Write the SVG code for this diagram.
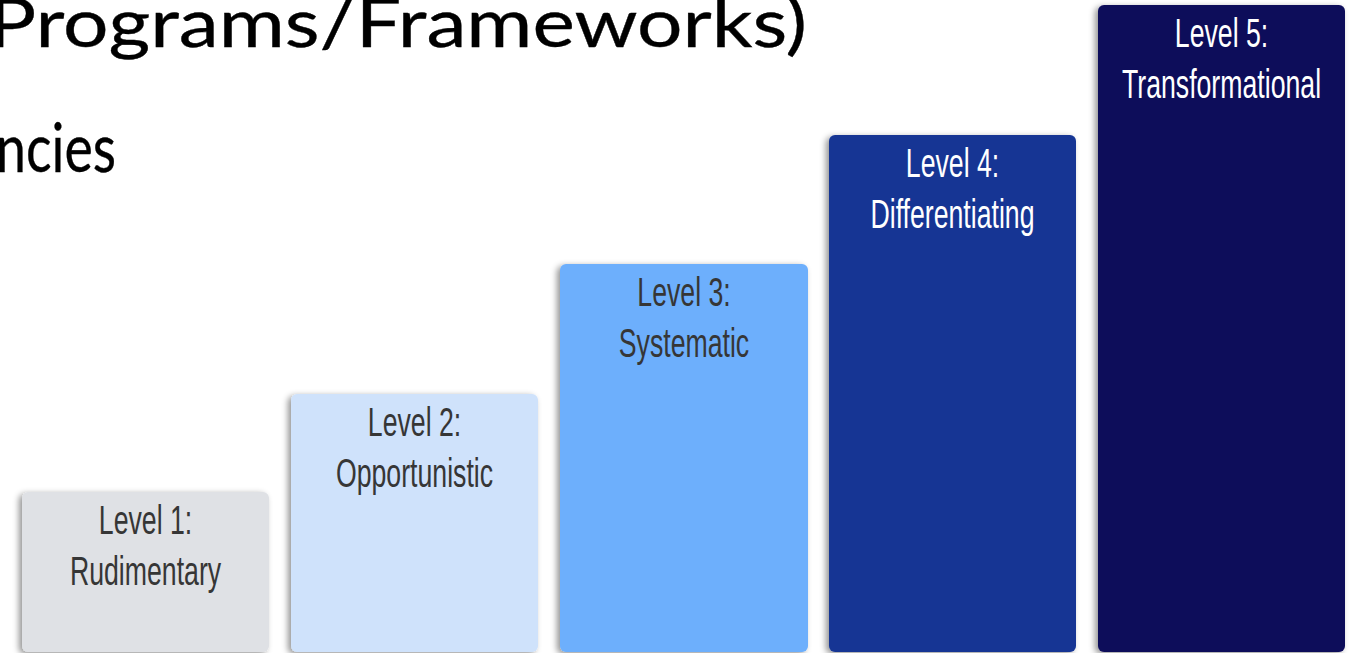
<svg xmlns="http://www.w3.org/2000/svg" width="1351" height="653" viewBox="0 0 1351 653">
  <style>
    .title { font-family: "Lato", "Open Sans", sans-serif; fill: #000; stroke: #000; stroke-width: 0.35px; }
    .lbl { font-family: "Liberation Sans", Arial, sans-serif; font-size: 40px; text-anchor: middle; }
    .dark { fill: #363636; }
    .light { fill: #ffffff; }
    .bar { filter: url(#shadow); }
  </style>
  <defs>
    <filter id="shadow" x="-10%" y="-10%" width="120%" height="120%">
      <feDropShadow dx="-3" dy="2" stdDeviation="3" flood-color="#000" flood-opacity="0.42"/>
    </filter>
  </defs>
  <rect x="0" y="0" width="1351" height="653" fill="#ffffff"/>

  <g id="title">
    <text class="title" x="-12" y="47" font-size="68" textLength="819" lengthAdjust="spacingAndGlyphs">Programs/Frameworks)</text>
    <text class="title" x="-4" y="172" font-size="68" textLength="120" lengthAdjust="spacingAndGlyphs">ncies</text>
  </g>

  <g id="level1">
    <rect class="bar" x="22" y="492" width="247" height="160" rx="6" fill="#dfe1e5"/>
    <text class="lbl dark" transform="translate(145.5 534) scale(0.667 1)">Level 1:</text>
    <text class="lbl dark" transform="translate(145.5 585) scale(0.667 1)">Rudimentary</text>
  </g>
  <g id="level2">
    <rect class="bar" x="291" y="394" width="247" height="258" rx="6" fill="#cfe2fb"/>
    <text class="lbl dark" transform="translate(414.5 436) scale(0.667 1)">Level 2:</text>
    <text class="lbl dark" transform="translate(414.5 487) scale(0.667 1)">Opportunistic</text>
  </g>
  <g id="level3">
    <rect class="bar" x="560" y="264" width="248" height="388" rx="6" fill="#6daffc"/>
    <text class="lbl dark" transform="translate(684 306) scale(0.667 1)">Level 3:</text>
    <text class="lbl dark" transform="translate(684 357) scale(0.667 1)">Systematic</text>
  </g>
  <g id="level4">
    <rect class="bar" x="829" y="135" width="247" height="517" rx="6" fill="#153694"/>
    <text class="lbl light" transform="translate(952.5 177) scale(0.667 1)">Level 4:</text>
    <text class="lbl light" transform="translate(952.5 228) scale(0.667 1)">Differentiating</text>
  </g>
  <g id="level5">
    <rect class="bar" x="1098" y="5" width="247" height="647" rx="6" fill="#0c0a5a"/>
    <text class="lbl light" transform="translate(1221.5 47) scale(0.667 1)">Level 5:</text>
    <text class="lbl light" transform="translate(1221.5 98) scale(0.667 1)">Transformational</text>
  </g>

  <g id="connectors"/>
</svg>
